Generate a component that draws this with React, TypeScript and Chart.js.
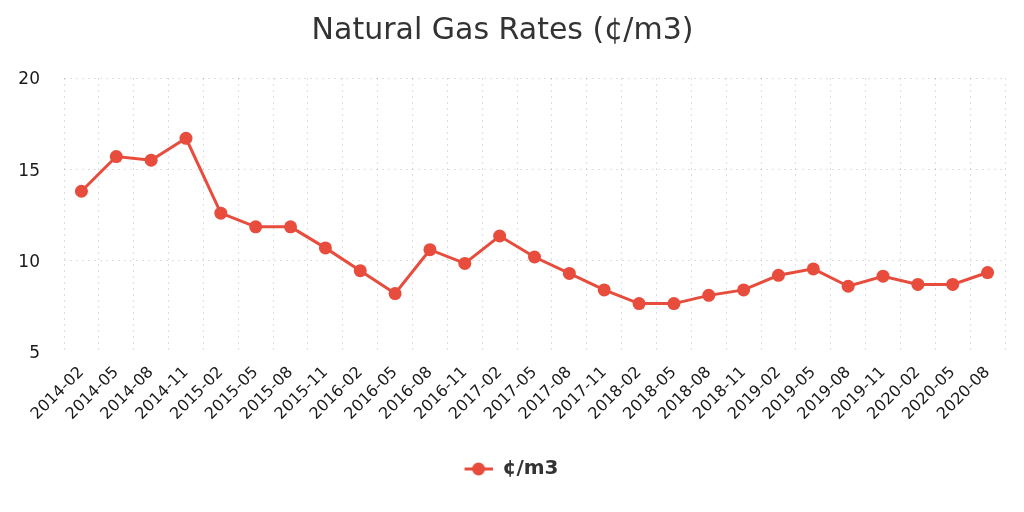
import React, { useEffect, useRef } from "react";
import { Chart, registerables } from "chart.js";

Chart.register(...registerables);

const categories: string[] = [
  "2014-02", "2014-05", "2014-08", "2014-11",
  "2015-02", "2015-05", "2015-08", "2015-11",
  "2016-02", "2016-05", "2016-08", "2016-11",
  "2017-02", "2017-05", "2017-08", "2017-11",
  "2018-02", "2018-05", "2018-08", "2018-11",
  "2019-02", "2019-05", "2019-08", "2019-11",
  "2020-02", "2020-05", "2020-08",
];

const rates: number[] = [
  13.8, 15.7, 15.5, 16.7,
  12.6, 11.85, 11.85, 10.7,
  9.45, 8.2, 10.6, 9.85,
  11.35, 10.2, 9.3, 8.4,
  7.65, 7.65, 8.1, 8.4,
  9.2, 9.55, 8.6, 9.15,
  8.7, 8.7, 9.35,
];

const yTicks: number[] = [5, 10, 15, 20];

const seriesLabel = "¢/m3";
const titleText = "Natural Gas Rates (¢/m3)";
const RED = "#e74c3c";
const FONT = "'DejaVu Sans', sans-serif";

const MARKER_SHIFT = 18;
const MARKER_W = 28;

function makeLegendMarker(): HTMLCanvasElement {
  const c = document.createElement("canvas");
  c.width = MARKER_W + MARKER_SHIFT;
  c.height = 14;
  const g = c.getContext("2d")!;
  g.strokeStyle = RED;
  g.lineWidth = 3;
  g.beginPath();
  g.moveTo(MARKER_SHIFT, 7);
  g.lineTo(MARKER_SHIFT + MARKER_W, 7);
  g.stroke();
  g.fillStyle = RED;
  g.beginPath();
  g.arc(MARKER_SHIFT + MARKER_W / 2, 7, 6.5, 0, Math.PI * 2);
  g.fill();
  return c;
}

export default function App() {
  const ref = useRef<HTMLCanvasElement | null>(null);

  useEffect(() => {
    document.body.style.margin = "0";
    if (!ref.current) return;
    const marker = makeLegendMarker();
    const chart = new Chart(ref.current, {
      type: "line",
      data: {
        labels: categories,
        datasets: [
          {
            label: seriesLabel,
            data: rates,
            borderColor: RED,
            backgroundColor: RED,
            borderWidth: 3,
            pointRadius: 6.5,
            pointHoverRadius: 6.5,
            pointBackgroundColor: RED,
            pointBorderWidth: 0,
            tension: 0,
            fill: false,
          },
        ],
      },
      options: {
        responsive: false,
        animation: false,
        devicePixelRatio: 1,
        layout: { padding: { left: 0, right: 19, top: 0, bottom: 23 } },
        plugins: {
          title: {
            display: true,
            text: titleText,
            color: "#333",
            font: { family: FONT, size: 30, weight: "normal" },
            padding: { top: 13, bottom: 29 },
          },
          legend: {
            display: true,
            position: "bottom",
            labels: {
              usePointStyle: true,
              pointStyleWidth: MARKER_W + MARKER_SHIFT,
              color: "#333",
              font: { family: FONT, size: 20, weight: "bold" },
              padding: 10,
              generateLabels: () => [
                {
                  text: seriesLabel,
                  pointStyle: marker,
                  fillStyle: RED,
                  strokeStyle: RED,
                  lineWidth: 0,
                  hidden: false,
                  datasetIndex: 0,
                  fontColor: "#333",
                },
              ],
            },
          },
          tooltip: { enabled: false },
        },
        scales: {
          x: {
            type: "category",
            offset: true,
            grid: {
              offset: true,
              color: "rgba(0,0,0,0.13)",
              lineWidth: 1,
              drawTicks: false,
            },
            border: { display: false, dash: [2, 4] },
            ticks: {
              autoSkip: false,
              maxRotation: 45,
              minRotation: 45,
              color: "#1a1a1a",
              font: { family: FONT, size: 16 },
              padding: 11,
            },
            afterFit: (axis: any) => {
              axis.height = 97;
            },
          },
          y: {
            min: 5,
            max: 20,
            afterBuildTicks: (axis: any) => {
              axis.ticks = yTicks.map((v) => ({ value: v }));
            },
            afterFit: (axis: any) => {
              axis.width = 64;
            },
            grid: {
              color: (ctx: any) =>
                ctx.tick && ctx.tick.value === 5 ? "rgba(0,0,0,0)" : "rgba(0,0,0,0.13)",
              lineWidth: 1,
              drawTicks: false,
            },
            border: { display: false, dash: [2, 4] },
            ticks: {
              color: "#1a1a1a",
              font: { family: FONT, size: 17 },
              padding: 24,
              labelOffset: 2,
            },
          },
        },
      },
    });
    return () => chart.destroy();
  }, []);

  return (
    <div style={{ width: 1024, height: 512, background: "#fff" }}>
      <canvas ref={ref} width={1024} height={512} style={{ display: "block" }} />
    </div>
  );
}
